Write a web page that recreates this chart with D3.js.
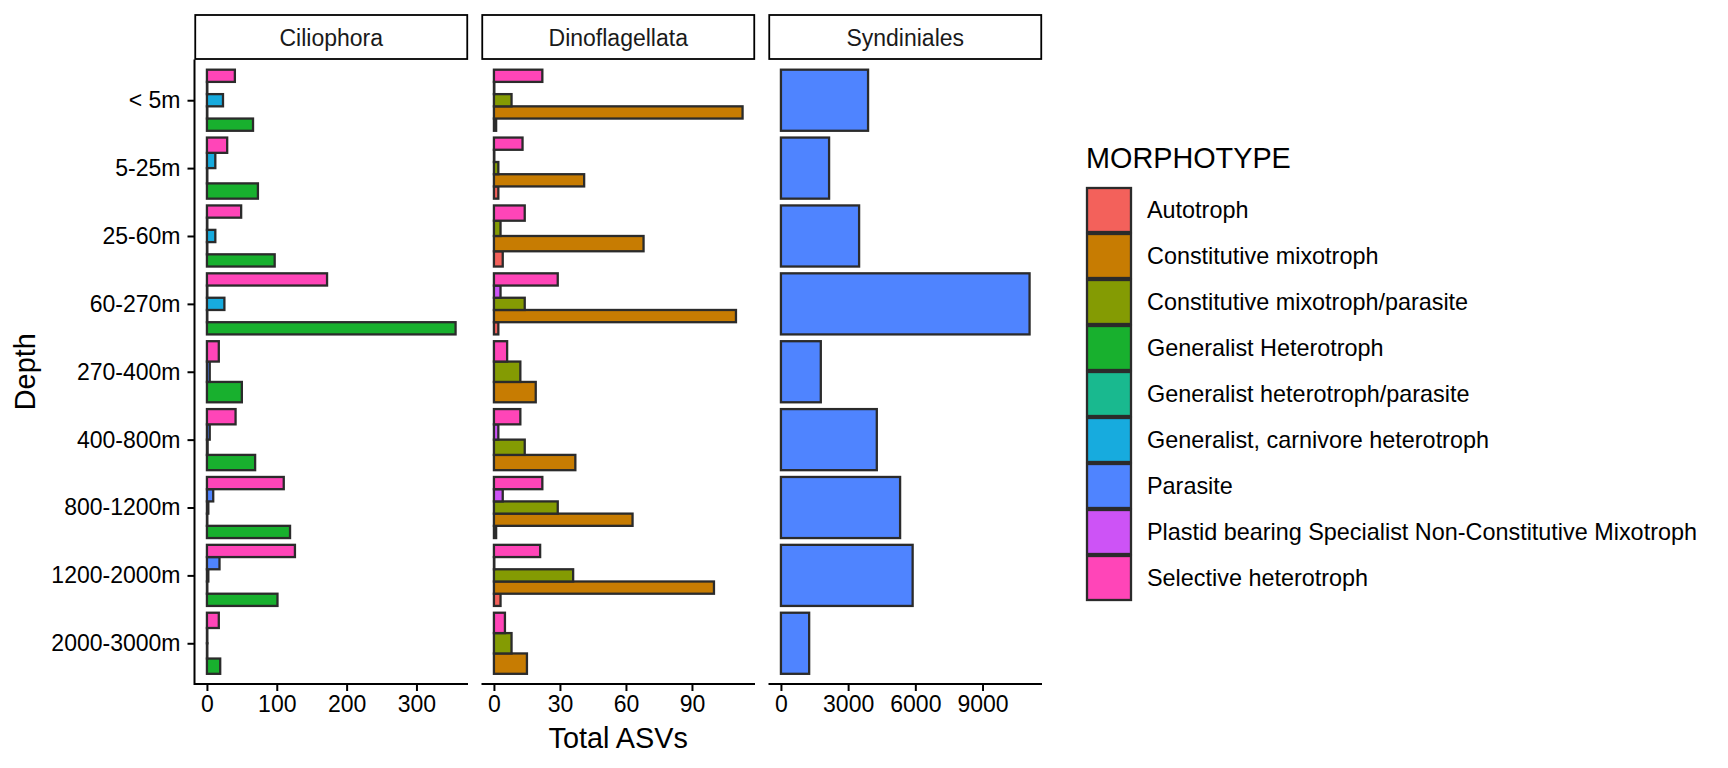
<!DOCTYPE html>
<html>
<head>
<meta charset="utf-8">
<script src="https://cdn.jsdelivr.net/npm/d3@7"></script>
<style>
  html, body { margin: 0; padding: 0; background: #fff; }
  svg text { font-family: "Liberation Sans", Arial, Helvetica, sans-serif; }
</style>
</head>
<body>
<svg id="chart" width="1728" height="768"></svg>
<script>
// ---------------- DATA ----------------
const depths = ["< 5m", "5-25m", "25-60m", "60-270m", "270-400m", "400-800m", "800-1200m", "1200-2000m", "2000-3000m"];
const facets = ["Ciliophora", "Dinoflagellata", "Syndiniales"];
const morphotypes = [
  "Autotroph",
  "Constitutive mixotroph",
  "Constitutive mixotroph/parasite",
  "Generalist Heterotroph",
  "Generalist heterotroph/parasite",
  "Generalist, carnivore heterotroph",
  "Parasite",
  "Plastid bearing Specialist Non-Constitutive Mixotroph",
  "Selective heterotroph"
];
const morphColors = ["#F3615B", "#C77C02", "#849B03", "#18B02E", "#19B98F", "#17ABDE", "#4F84FF", "#CD53F6", "#FF45B8"];

// Ciliophora (null = morphotype absent at that depth)
const cilGeneralistHeterotroph = [66, 73, 97, 356, 50, 69, 119, 101, 19];
const cilGeneralistHetParasite = [0, 0, 0, 0, null, null, 0, 0, 0];
const cilGeneralistCarnivore   = [23, 12, 12, 25, null, 1, 2, 2, 0];
const cilParasite              = [0, null, 0, 0, 4, 4, 9, 18, null];
const cilSelectiveHeterotroph  = [40, 29, 49, 172, 17, 41, 110, 126, 17];

// Dinoflagellata
const dinAutotroph             = [1, 2, 4, 2, null, null, 1, 3, null];
const dinConstitutiveMixotroph = [113, 41, 68, 110, 19, 37, 63, 100, 15];
const dinConstMixoParasite     = [8, 2, 3, 14, 12, 14, 29, 36, 8];
const dinPlastidBearing        = [0, 0, null, 3, null, 2, 4, 0, null];
const dinSelectiveHeterotroph  = [22, 13, 14, 29, 6, 12, 22, 21, 5];

// Syndiniales
const synParasite = [3890, 2150, 3490, 11100, 1780, 4280, 5320, 5880, 1260];

// Tick labels
const ciliophoraTicks = [0, 100, 200, 300];
const dinoflagellataTicks = [0, 30, 60, 90];
const syndinialesTicks = [0, 3000, 6000, 9000];

const facetSeries = {
  "Ciliophora": {
    "Generalist Heterotroph": cilGeneralistHeterotroph,
    "Generalist heterotroph/parasite": cilGeneralistHetParasite,
    "Generalist, carnivore heterotroph": cilGeneralistCarnivore,
    "Parasite": cilParasite,
    "Selective heterotroph": cilSelectiveHeterotroph
  },
  "Dinoflagellata": {
    "Autotroph": dinAutotroph,
    "Constitutive mixotroph": dinConstitutiveMixotroph,
    "Constitutive mixotroph/parasite": dinConstMixoParasite,
    "Plastid bearing Specialist Non-Constitutive Mixotroph": dinPlastidBearing,
    "Selective heterotroph": dinSelectiveHeterotroph
  },
  "Syndiniales": {
    "Parasite": synParasite
  }
};
const facetTicks = { "Ciliophora": ciliophoraTicks, "Dinoflagellata": dinoflagellataTicks, "Syndiniales": syndinialesTicks };

// ---------------- LAYOUT ----------------
const svg = d3.select("#chart");
const panelTop = 59.5, panelBottom = 684;
const panelLefts = [194.5, 481.5, 768.5];
const panelWidth = 273.5;
const stripTop = 15;
const tickFont = 23, legendFont = 23.4, titleFont = 28.8;
const barStroke = "#2b2b2b", barStrokeW = 2.3;

const color = d3.scaleOrdinal().domain(morphotypes).range(morphColors);
const yPos = d3.scalePoint().domain(depths).range([panelTop, panelBottom]).padding(0.6);
const step = yPos.step();

facets.forEach((f, fi) => {
  const left = panelLefts[fi], right = left + panelWidth;
  const series = facetSeries[f];
  const maxV = d3.max(Object.values(series), arr => d3.max(arr.filter(v => v != null)));
  const x = d3.scaleLinear().domain([-0.05 * maxV, 1.05 * maxV]).range([left, right]);

  const g = svg.append("g");

  // bars
  const rows = [];
  depths.forEach((d, di) => {
    const present = morphotypes.filter(m => series[m] && series[m][di] != null);
    const n = present.length;
    const h = 0.9 * step / n;
    const c = yPos(d);
    present.forEach((m, k) => {
      rows.push({ depth: d, m, v: series[m][di], y: c + 0.45 * step - (k + 1) * h, h });
    });
  });
  g.selectAll("rect.bar").data(rows).enter().append("rect")
    .attr("class", "bar")
    .attr("x", r => x(0))
    .attr("y", r => r.y)
    .attr("width", r => Math.max(x(r.v) - x(0), 0.4))
    .attr("height", r => r.h)
    .attr("fill", r => color(r.m))
    .attr("stroke", barStroke)
    .attr("stroke-width", barStrokeW);

  // strip
  g.append("rect")
    .attr("x", left + 0.75).attr("y", stripTop)
    .attr("width", panelWidth - 1.5).attr("height", panelTop - stripTop - 0.5)
    .attr("fill", "#fff").attr("stroke", "#000").attr("stroke-width", 1.8);
  g.append("text")
    .attr("x", (left + right) / 2).attr("y", (stripTop + panelTop) / 2)
    .attr("dy", "0.36em")
    .attr("text-anchor", "middle")
    .attr("font-size", tickFont).attr("fill", "#1a1a1a")
    .text(f);

  // x axis
  const xAxis = d3.axisBottom(x).tickValues(facetTicks[f]).tickSize(7).tickPadding(5).tickSizeOuter(0)
    .tickFormat(d3.format("d"));
  const ax = svg.append("g").attr("transform", `translate(0,${panelBottom})`).call(xAxis);
  ax.select(".domain").attr("stroke", "#000").attr("stroke-width", 2).attr("d", `M${left},0H${right}`);
  ax.selectAll(".tick line").attr("stroke", "#000").attr("stroke-width", 2);
  ax.selectAll(".tick text").attr("font-size", tickFont).attr("fill", "#000")
    .attr("font-family", "'Liberation Sans', Arial, sans-serif");

  // y axis only on first panel
  if (fi === 0) {
    const yAxis = d3.axisLeft(yPos).tickSize(7).tickPadding(7).tickSizeOuter(0);
    const ay = svg.append("g").attr("transform", `translate(${left},0)`).call(yAxis);
    ay.select(".domain").attr("stroke", "#000").attr("stroke-width", 2).attr("d", `M0,${panelTop}V${panelBottom + 1}`);
    ay.selectAll(".tick line").attr("stroke", "#000").attr("stroke-width", 2);
    ay.selectAll(".tick text").attr("font-size", tickFont).attr("fill", "#000")
      .attr("font-family", "'Liberation Sans', Arial, sans-serif");
  }
});

// axis titles
svg.append("text")
  .attr("x", (panelLefts[0] + panelLefts[2] + panelWidth) / 2).attr("y", 748)
  .attr("text-anchor", "middle").attr("font-size", titleFont).attr("fill", "#000")
  .text("Total ASVs");
svg.append("text")
  .attr("transform", `translate(35,${(panelTop + panelBottom) / 2}) rotate(-90)`)
  .attr("text-anchor", "middle").attr("font-size", titleFont).attr("fill", "#000")
  .text("Depth");

// legend
const legX = 1086, legTitleY = 168, keyTop = 187, keyStep = 46, keySize = 44;
svg.append("text").attr("x", legX).attr("y", legTitleY)
  .attr("font-size", titleFont).attr("fill", "#000").text("MORPHOTYPE");
const leg = svg.append("g");
const items = leg.selectAll("g").data(morphotypes).enter().append("g")
  .attr("transform", (d, i) => `translate(${legX},${keyTop + i * keyStep})`);
items.append("rect")
  .attr("x", 1).attr("y", 1).attr("width", keySize).attr("height", keySize)
  .attr("fill", d => color(d)).attr("stroke", barStroke).attr("stroke-width", 2.3);
items.append("text")
  .attr("x", 61).attr("y", 1 + keySize / 2).attr("dy", "0.36em")
  .attr("font-size", legendFont).attr("fill", "#000")
  .text(d => d);
</script>
</body>
</html>
